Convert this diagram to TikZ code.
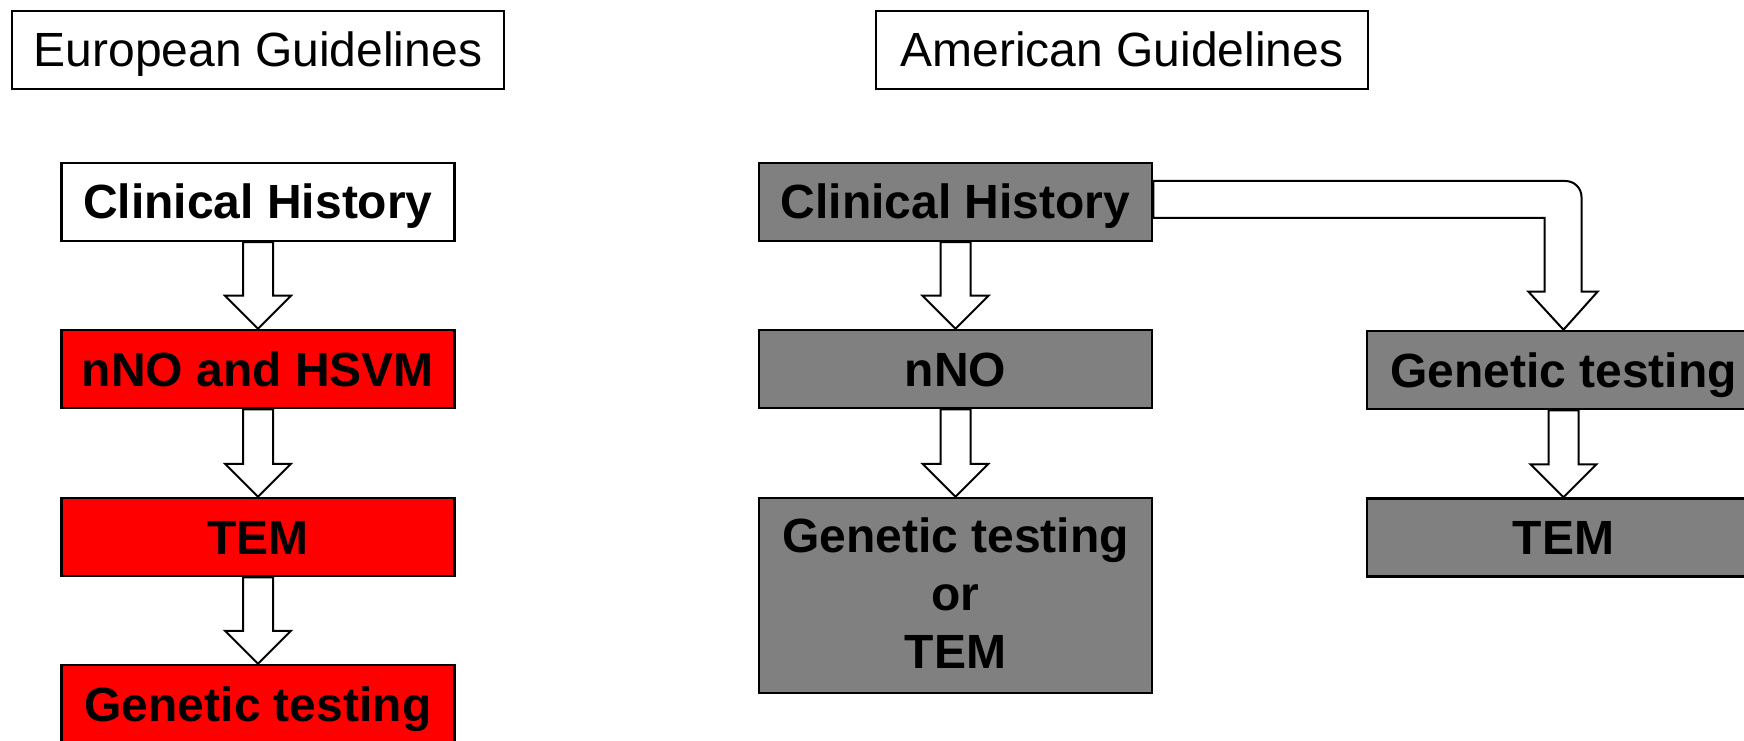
\documentclass[tikz,border=0pt]{standalone}
\usepackage{fontspec}
\setmainfont{Liberation Sans}
\usetikzlibrary{calc}

\definecolor{eured}{HTML}{FF0000}
\definecolor{usgray}{HTML}{808080}

\tikzset{
  title/.style={draw=black, line width=2.5pt, fill=white, minimum width=492pt, minimum height=78pt,
    inner sep=0pt, text height=44pt, text depth=10pt, font=\fontsize{48}{57.6}\selectfont},
  stage/.style={draw=black, line width=2.5pt, minimum width=393pt, minimum height=78pt,
    inner sep=0pt, text height=44pt, text depth=10pt, align=center,
    font=\fontsize{48}{57.6}\selectfont\bfseries},
  eustage/.style={stage, fill=eured},
  usstage/.style={stage, fill=usgray},
  blockarrow/.style={draw=black, line width=2pt, fill=white, line join=miter}
}

% hollow block arrow running straight down from one node to the next
\newcommand{\downblock}[2]{%
  \draw[blockarrow]
    ($(#1.south)+(-15,0)$) -- ($(#2.north)+(-15,33)$) -- ($(#2.north)+(-33,33)$)
    -- (#2.north) -- ($(#2.north)+(33,33)$) -- ($(#2.north)+(15,33)$)
    -- ($(#1.south)+(15,0)$) -- cycle;}

\begin{document}
\begin{tikzpicture}[x=1pt, y=1pt]
  \useasboundingbox (0,0) rectangle (1744,740);
  \clip (0,0) rectangle (1744,740);

  % column headings
  \node[title] (eutitle) at (258,690) {European Guidelines};
  \node[title] (ustitle) at (1122,690) {American Guidelines};

  % European pathway
  \node[eustage, fill=white] (ch1) at (258,538) {Clinical History};
  \node[eustage] (nno1) at (258,371) {nNO and HSVM};
  \node[eustage] (tem1) at (258,203) {TEM};
  \node[eustage] (gt1)  at (258,36)  {Genetic testing};

  % American pathway
  \node[usstage] (ch2)  at (955.5,538) {Clinical History};
  \node[usstage] (nno2) at (955.5,371) {nNO};
  \node[usstage, minimum height=195pt, text height=155pt] (gtor) at (955.5,144.5)
    {Genetic testing\\or\\TEM};
  \node[usstage] (gt2)  at (1563.5,370) {Genetic testing};
  \node[usstage] (tem2) at (1563.5,202.5) {TEM};

  % arrows between stages
  \downblock{ch1}{nno1}
  \downblock{nno1}{tem1}
  \downblock{tem1}{gt1}
  \downblock{ch2}{nno2}
  \downblock{nno2}{gtor}
  \downblock{gt2}{tem2}

  % bent arrow from the clinical history to genetic testing
  \coordinate (bendtop) at ($(ch2.east)+(0,21)$);
  \coordinate (bendbot) at ($(ch2.east)+(0,-16)$);
  \coordinate (arcstart) at ($(gt2.north)+(2,0)$);
  \coordinate (innerx) at ($(gt2.north)+(-19,0)$);
  \draw[blockarrow]
    (bendtop) -- (arcstart |- bendtop)
    arc[start angle=90, end angle=0, radius=16]
    -- ($(gt2.north)+(18,38)$) -- ($(gt2.north)+(34,38)$) -- (gt2.north)
    -- ($(gt2.north)+(-35,38)$) -- ($(gt2.north)+(-19,38)$)
    -- (innerx |- bendbot) -- (bendbot) -- cycle;
\end{tikzpicture}
\end{document}
